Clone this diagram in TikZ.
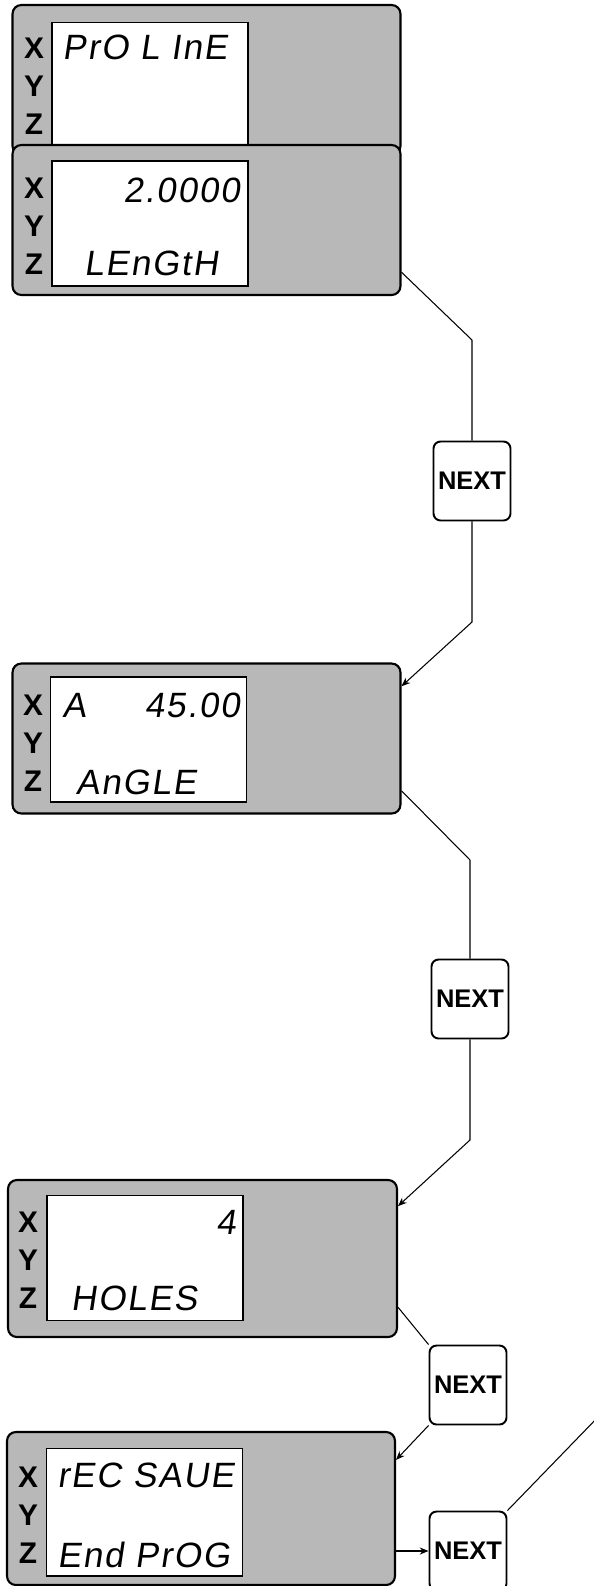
\documentclass[tikz,border=0pt]{standalone}
\usepackage{fontspec}
\setsansfont{Liberation Sans}
\newfontfamily\lcdfont[FakeSlant=0.15,LetterSpace=5]{Liberation Sans}
\usetikzlibrary{arrows.meta}

\begin{document}
\begin{tikzpicture}[
    x=0.02cm, y=-0.02cm,
    font=\sffamily,
    panel_box/.style={
        draw=black, line width=1.2pt, fill=black!28,
        rounded corners=5pt,
        minimum width=7.76cm, minimum height=3cm, inner sep=0pt
    },
    screen/.style={
        draw=black, line width=0.6pt, fill=white,
        minimum width=3.92cm, minimum height=2.5cm, inner sep=0pt
    },
    axis_lbl/.style={
        font=\sffamily\bfseries\fontsize{17}{17}\selectfont, inner sep=0pt
    },
    lcd_txt/.style={
        font=\lcdfont\fontsize{20}{20}\selectfont, inner sep=0pt
    },
    next_key/.style={
        draw=black, line width=1.1pt, fill=white, rounded corners=4pt,
        minimum width=1.54cm, minimum height=1.58cm, inner sep=0pt,
        font=\sffamily\bfseries\fontsize{14.5}{14.5}\selectfont
    },
    flow_line/.style={draw=black, line width=0.6pt},
    flow_arrow/.style={
        flow_line, -{Stealth[length=5pt,width=4pt]}
    }
]

%% -- Axis letters X / Y / Z --------------------
\tikzset{xyz/.pic={
    \node[axis_lbl] (-x) at (0,-38) {X};
    \node[axis_lbl] (-y) at (0,0)   {Y};
    \node[axis_lbl] (-z) at (0,38)  {Z};
}}

\useasboundingbox (0,0) rectangle (594,1586);
\clip (0,0) rectangle (594,1586);

% ==============================================
%  Display 1 - PRO LINE
% ==============================================
\node[panel_box] (p1) at (206.5,80) {};
\node[screen] (s1) at (150,85) {};
\pic (a1) at (34,86) {xyz};
\node[lcd_txt, anchor=west] (t1) at (62,47) {PrO L InE};

% ==============================================
%  Display 2 - LENGTH
% ==============================================
\node[panel_box] (p2) at (206.5,220) {};
\node[screen] (s2) at (150,223.5) {};
\pic (a2) at (34,226) {xyz};
\node[lcd_txt, anchor=east] (t2a) at (240,190) {2.0000};
\node[lcd_txt] (t2b) at (151,263) {LEnGtH};

% ==============================================
%  Display 3 - ANGLE
% ==============================================
\node[panel_box] (p3) at (206.5,738.5) {};
\node[screen] (s3) at (148.5,739.5) {};
\pic (a3) at (33,743) {xyz};
\node[lcd_txt, anchor=west] (t3a) at (62,705) {A};
\node[lcd_txt, anchor=east] (t3b) at (240,705) {45.00};
\node[lcd_txt] (t3c) at (136,782) {AnGLE};

% ==============================================
%  Display 4 - HOLES
% ==============================================
\node[panel_box, minimum width=7.78cm, minimum height=3.14cm]
    (p4) at (202.5,1258.5) {};
\node[screen] (s4) at (145,1258) {};
\pic (a4) at (28,1260) {xyz};
\node[lcd_txt, anchor=east] (t4a) at (236,1222) {4};
\node[lcd_txt] (t4b) at (134,1298) {HOLES};

% ==============================================
%  Display 5 - REC SAVE / END PROG
% ==============================================
\node[panel_box, minimum width=7.76cm, minimum height=3.06cm]
    (p5) at (201,1508.5) {};
\node[screen, minimum height=2.56cm] (s5) at (144.5,1512) {};
\pic (a5) at (28,1515) {xyz};
\node[lcd_txt, anchor=west] (t5a) at (57,1475) {rEC SAUE};
\node[lcd_txt, anchor=west] (t5b) at (57,1555) {End PrOG};

% NEXT keys
\node[next_key] (k1) at (472,481)  {NEXT};
\node[next_key] (k2) at (470,999)  {NEXT};
\node[next_key] (k3) at (468,1385) {NEXT};
\node[next_key] (k4) at (468,1551) {NEXT};

% bend points and free end
\coordinate (b1) at (472,340);
\coordinate (b2) at (472,622);
\coordinate (b3) at (470,860);
\coordinate (b4) at (470,1140);
\coordinate (exit) at (600,1415);

% connectors
\draw[flow_line]  (p2.-15) -- (b1) -- (k1.north);
\draw[flow_arrow] (k1.south) -- (b2) -- (p3.15);
\draw[flow_line]  (p3.-15) -- (b3) -- (k2.north);
\draw[flow_arrow] (k2.south) -- (b4) -- (p4.15);
\draw[flow_line]  (p4.-14) -- (k3.north west);
\draw[flow_arrow] (k3.south west) -- (p5.14);
\draw[flow_arrow] (p5.east |- k4.west) -- (k4.west);
\draw[flow_line]  (k4.north east) -- (exit);

\end{tikzpicture}
\end{document}
